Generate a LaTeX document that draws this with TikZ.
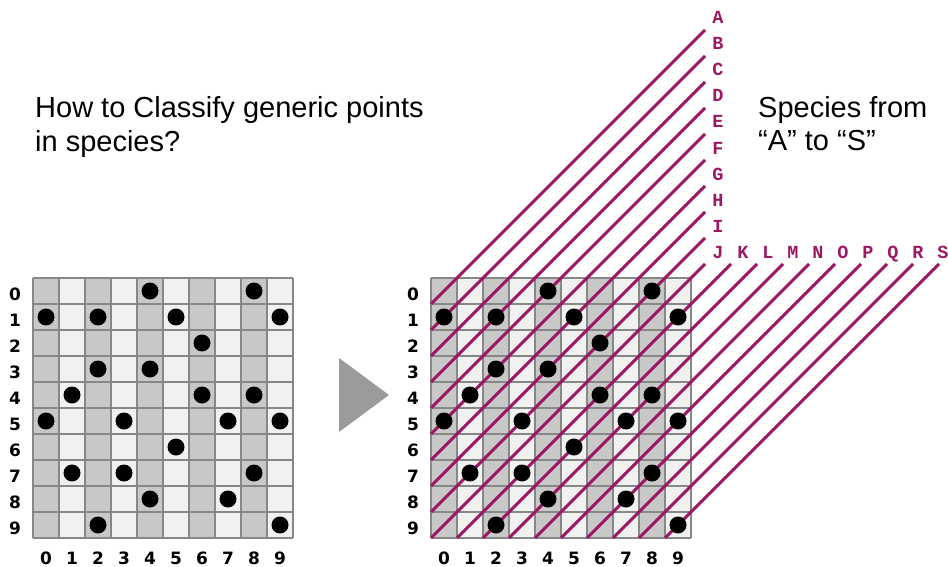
\documentclass[tikz,border=0pt]{standalone}
\usepackage{fontspec}
\setmainfont{Liberation Sans}
\newfontfamily\digitfont{DejaVu Sans}
\newfontfamily\letterfont{Liberation Mono}
\definecolor{species}{RGB}{155,25,100}
\definecolor{darkcol}{RGB}{200,200,200}
\definecolor{lightcol}{RGB}{241,241,241}
\definecolor{gridcol}{RGB}{135,135,135}
\definecolor{arrowgray}{RGB}{155,155,155}
\begin{document}
\begin{tikzpicture}[x=1pt,y=-1pt,
  gridline/.style={draw=gridcol,line width=1.3pt},
  numlab/.style={font=\digitfont\bfseries\fontsize{17}{17}\selectfont,inner sep=0pt,anchor=base},
  letlab/.style={font=\letterfont\bfseries\fontsize{18.5}{18.5}\selectfont,text=species,inner sep=0pt,anchor=base},
  dot/.style={circle,fill=black,minimum size=17pt,inner sep=0pt},
  speciesline/.style={draw=species,line width=3pt},
  title/.style={font=\fontsize{29}{29}\selectfont,inner sep=0pt,anchor=base west}]
\useasboundingbox (0,0) rectangle (948,567);
% grids
\foreach \ox/\gn in {33/L,431/R} {
  \foreach \c in {0,2,...,8} \fill[darkcol] ({\ox+26*\c},278) rectangle ++(26,260);
  \foreach \c in {1,3,...,9} \fill[lightcol] ({\ox+26*\c},278) rectangle ++(26,260);
  \foreach \i in {0,...,10} {
    \draw[gridline] ({\ox+26*\i},278) -- ++(0,260);
    \draw[gridline] (\ox,{278+26*\i}) -- ++(260,0);
  }
  \foreach \i in {0,...,9} {
    \node[numlab] (\gn row\i) at ({\ox-18},{300+26*\i}) {\i};
    \node[numlab] (\gn col\i) at ({\ox+13+26*\i},564) {\i};
  }
}
% species lines and labels
\foreach \k/\L in {0/A,1/B,2/C,3/D,4/E,5/F,6/G,7/H,8/I,9/J,10/K,11/L,12/M,13/N,14/O,15/P,16/Q,17/R,18/S} {
  \pgfmathsetmacro\sx{\k<10 ? 431 : 431+26*(\k-9)}
  \pgfmathsetmacro\sy{\k<10 ? 304+26*\k : 538}
  \pgfmathsetmacro\ex{\k<10 ? 705 : 471+26*\k}
  \pgfmathsetmacro\ey{\k<10 ? 30+26*\k : 264}
  \pgfmathsetmacro\lx{\k<10 ? 718 : 718+25*(\k-9)}
  \pgfmathsetmacro\ly{\k<10 ? 24+26*\k : 258}
  \coordinate (s\k) at (\sx,\sy);
  \coordinate (e\k) at (\ex,\ey);
  \draw[speciesline] (s\k) -- (e\k);
  \node[letlab] (lab\L) at (\lx,\ly) {\L};
}
% dots
\foreach \ox/\gn in {33/L,431/R} {
  \foreach \r/\c in {0/4,0/8,1/0,1/2,1/5,1/9,2/6,3/2,3/4,4/1,4/6,4/8,5/0,5/3,5/7,5/9,6/5,7/1,7/3,7/8,8/4,8/7,9/2,9/9}
    \node[dot] (\gn dot\r\c) at ({\ox+13+26*\c},{291+26*\r}) {};
}
% arrow
\fill[arrowgray] (339,358) -- (339,432) -- (389,395) -- cycle;
% texts
\node[title] (q1) at (35,118) {How to Classify generic points};
\node[title] (q2) at (35,152) {in species?};
\node[title] (s1) at (758,118) {Species from};
\node[title] (s2) at (758,150) {“A” to “S”};
\end{tikzpicture}
\end{document}
